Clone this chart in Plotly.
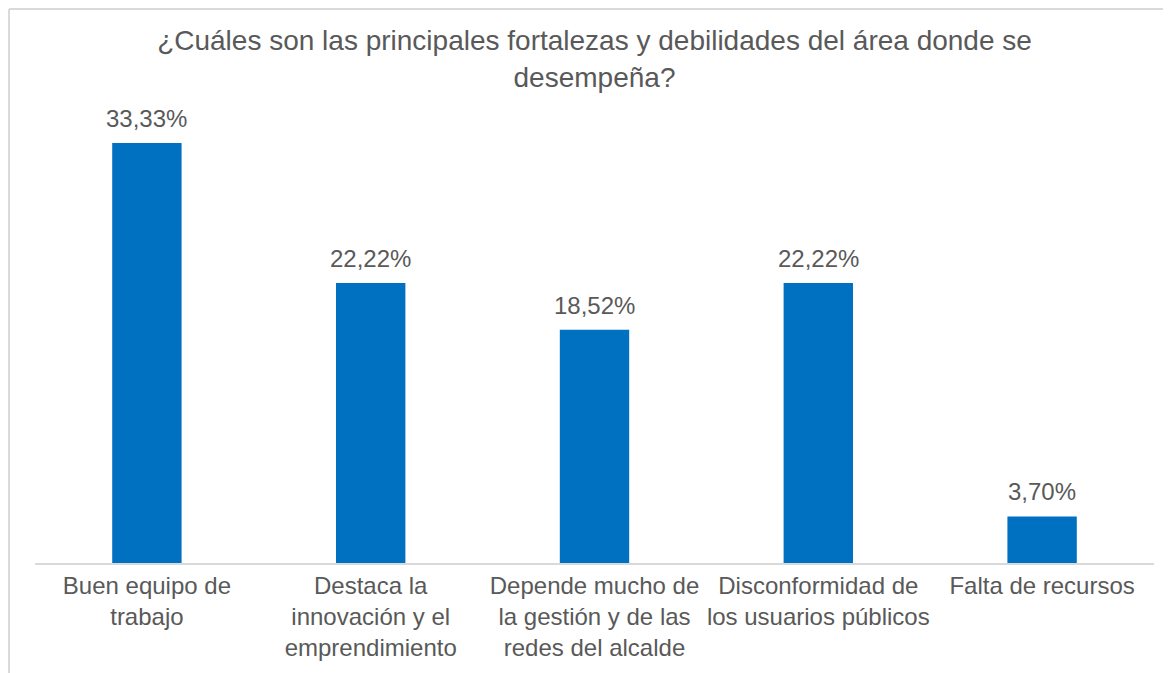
import plotly.graph_objects as go

# categorias y valores (%)
categorias = [
    "Buen equipo de<br>trabajo",
    "Destaca la<br>innovación y el<br>emprendimiento",
    "Depende mucho de<br>la gestión y de las<br>redes del alcalde",
    "Disconformidad de<br>los usuarios públicos",
    "Falta de recursos",
]
valores = [33.33, 22.22, 18.52, 22.22, 3.70]
etiquetas = ["33,33%", "22,22%", "18,52%", "22,22%", "3,70%"]

gris = "#595959"
azul = "#0070C0"
linea = "#D9D9D9"
fuente = "Liberation Sans, Arial, sans-serif"

fig = go.Figure(go.Bar(x=categorias, y=valores, marker=dict(color=azul, line=dict(width=0)),
                       hoverinfo="skip"))

# etiquetas de datos encima de cada barra
for c, v, t in zip(categorias, valores, etiquetas):
    fig.add_annotation(x=c, y=v, text=t, showarrow=False, yanchor="bottom", yshift=9,
                       font=dict(size=24, color=gris, family=fuente))

fig.update_layout(
    width=1174, height=673,
    margin=dict(l=27, r=28, t=92, b=118),
    paper_bgcolor="white", plot_bgcolor="white",
    bargap=0.69,
    showlegend=False,
    font=dict(family=fuente, color=gris),
    title=dict(text="¿Cuáles son las principales fortalezas y debilidades del área donde se<br>desempeña?",
               x=0.5, xref="paper", xanchor="center", y=0.937, yanchor="top",
               font=dict(size=28, color=gris, family=fuente)),
)
fig.update_xaxes(showline=True, linecolor=linea, linewidth=2, ticks="",
                 tickfont=dict(size=24, color=gris), showgrid=False)
fig.update_yaxes(range=[0, 36.75], visible=False, showgrid=False)

# marco del grafico (borde superior e izquierdo)
fig.add_shape(type="line", xref="paper", yref="paper", x0=-0.0232, x1=1.008, y0=1.1965, y1=1.1965,
              line=dict(color=linea, width=2))
fig.add_shape(type="line", xref="paper", yref="paper", x0=-0.0232, x1=-0.0232, y0=1.1965, y1=-0.26,
              line=dict(color=linea, width=2))

fig.write_html("out.html")
